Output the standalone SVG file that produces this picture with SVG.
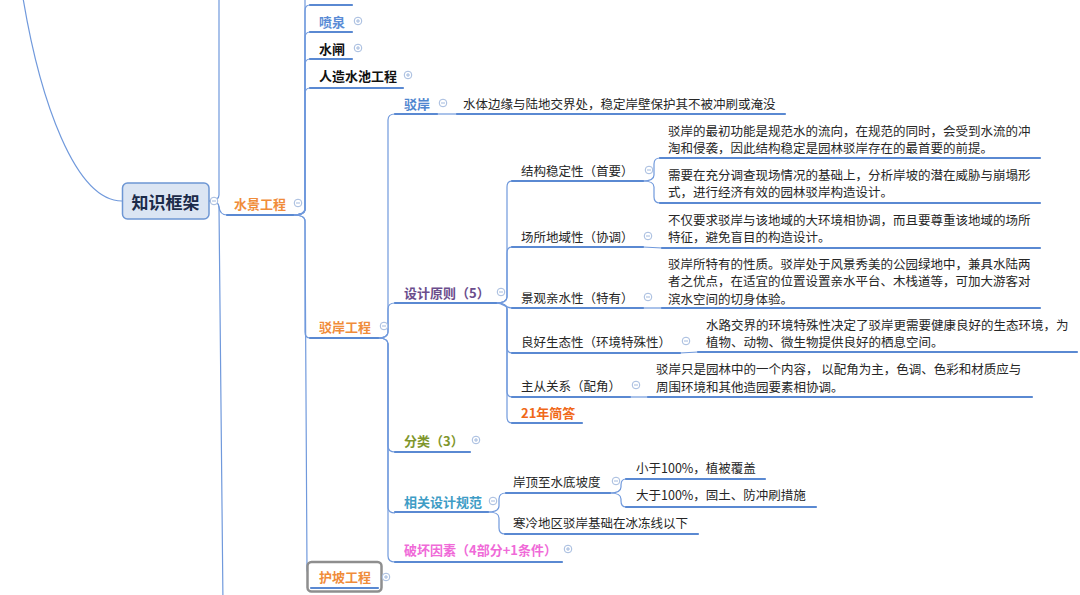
<svg xmlns="http://www.w3.org/2000/svg" xmlns:xlink="http://www.w3.org/1999/xlink" width="1080" height="595" viewBox="0 0 1080 595">
<style>
text{font-family:"Noto Sans CJK SC","Noto Sans",sans-serif;dominant-baseline:central}
.leaf{font-size:12.5px;fill:#262626}
.sub{font-size:12.5px;fill:#262626}
.b{font-size:13px;font-weight:bold}
.cn{fill:none;stroke:#7099dc;stroke-width:1.2}
.ul{fill:none;stroke:#5a89d2;stroke-width:2.2;stroke-linecap:round}
.tl{fill:none;stroke:#7099dc;stroke-width:1.2}
.tg circle{fill:#fff;stroke:#a3bade;stroke-width:1}
.tg line{stroke:#a3bade;stroke-width:1}
</style>
<defs>
<g id="mi" class="tg"><circle r="3.8"/><line x1="-2" y1="0" x2="2" y2="0"/></g>
<g id="pl" class="tg"><circle r="3.8"/><line x1="-2" y1="0" x2="2" y2="0"/><line x1="0" y1="-2" x2="0" y2="2"/></g>
</defs>
<rect width="1080" height="595" fill="#fff"/>

<g id="connectors">
<path class="cn" d="M 23 -2 C 40 100 75 201 122 201"/>
<path class="cn" d="M 209 201 Q 219 201 219 195 L 219 -10"/>
<path class="cn" d="M 209 201 Q 219 201 219 207 Q 220 215 227 215"/>
<path class="cn" d="M 209 201 Q 219 201 219 207 L 223 605"/>

<path class="cn" d="M 293 215 Q 305 215 305 209 L 305 -10"/>
<path class="cn" d="M 293 215 Q 305 215 305 209 L 305 11 Q 305 5 310 5"/>
<path class="cn" d="M 293 215 Q 305 215 305 209 L 305 38 Q 305 32 310 32"/>
<path class="cn" d="M 293 215 Q 305 215 305 209 L 305 65 Q 305 59 310 59"/>
<path class="cn" d="M 293 215 Q 305 215 305 209 L 305 94 Q 305 88 310 88"/>
<path class="cn" d="M 293 215 Q 305 215 305 221 L 305 332 Q 305 338 310 338"/>
<path class="cn" d="M 293 215 Q 305 215 305 221 L 307 570 Q 308 577 312 577"/>

<path class="cn" d="M 378 338 Q 388 338 388 332 L 388 120 Q 388 114 395 114"/>
<path class="cn" d="M 378 338 Q 388 338 388 332 L 388 309 Q 388 303 395 303"/>
<path class="cn" d="M 378 338 Q 388 338 388 344 L 388 446 Q 388 452 395 452"/>
<path class="cn" d="M 378 338 Q 388 338 388 344 L 388 507 Q 388 513 395 513"/>
<path class="cn" d="M 378 338 Q 388 338 388 344 L 388 556 Q 388 562 395 562"/>

<path class="cn" d="M 437 114 L 457 114"/>

<path class="cn" d="M 496 303 Q 507 303 507 297 L 507 187 Q 507 181 512 181"/>
<path class="cn" d="M 496 303 Q 507 303 507 297 L 507 253 Q 507 247 512 247"/>
<path class="cn" d="M 496 303 C 504 303 505 308 512 308"/>
<path class="cn" d="M 496 303 Q 507 303 507 309 L 507 347 Q 507 353 512 353"/>
<path class="cn" d="M 496 303 Q 507 303 507 309 L 507 391 Q 507 397 512 397"/>
<path class="cn" d="M 496 303 Q 507 303 507 309 L 507 417 Q 507 423 512 423"/>

<path class="cn" d="M 643 181 Q 654 181 654 175 L 654 164 Q 654 158 660 158"/>
<path class="cn" d="M 643 181 Q 654 181 654 187 L 654 197 Q 654 203 660 203"/>
<path class="cn" d="M 643 247 L 662 248"/>
<path class="cn" d="M 643 308 L 662 308"/>
<path class="cn" d="M 680 353 L 698 352"/>
<path class="cn" d="M 630 397 L 648 397"/>

<path class="cn" d="M 488 512 Q 499 512 499 506 L 499 499 Q 499 493 506 493"/>
<path class="cn" d="M 488 512 Q 499 512 499 518 L 499 528 Q 499 534 505 534"/>
<path class="cn" d="M 610 493 Q 621 493 621 487 L 621 485 Q 621 479 626 479"/>
<path class="cn" d="M 610 493 Q 621 493 621 499 L 621 501 Q 621 507 626 507"/>
</g>

<g id="n-root">
<rect x="122.5" y="183" width="86.5" height="36" rx="5" fill="#dbe5f3" stroke="#6d96d4" stroke-width="1.5"/>
<text x="165.5" y="201" text-anchor="middle" font-size="17" font-weight="bold" fill="#1c2b49">知识框架</text>
<use href="#mi" x="214" y="201"/>
</g>

<g id="n-shuijing">
<line class="ul" x1="227" y1="215" x2="293" y2="215"/>
<text class="b" x="234" y="203" fill="#f08c3a">水景工程</text>
<use href="#mi" x="298" y="203"/>
</g>

<g id="n-top"><line class="ul" x1="310" y1="5" x2="352" y2="5"/></g>

<g id="n-penquan">
<line class="ul" x1="310" y1="32" x2="352" y2="32"/>
<text class="b" x="319" y="21" fill="#5a8cd6">喷泉</text>
<use href="#pl" x="358" y="21"/>
</g>

<g id="n-shuizha">
<line class="ul" x1="310" y1="59" x2="352" y2="59"/>
<text class="b" x="319" y="48" fill="#111">水闸</text>
<use href="#pl" x="358" y="48"/>
</g>

<g id="n-shuichi">
<line class="ul" x1="310" y1="88" x2="403" y2="88"/>
<text class="b" x="319" y="75" fill="#111">人造水池工程</text>
<use href="#pl" x="408" y="75"/>
</g>

<g id="n-boan-gc">
<line class="ul" x1="310" y1="338" x2="378" y2="338"/>
<text class="b" x="319" y="326" fill="#f08c3a">驳岸工程</text>
<use href="#mi" x="384" y="326"/>
</g>

<g id="n-hupo">
<rect x="307.5" y="562" width="74" height="29.5" rx="4" fill="#fff" stroke="#8e8e8e" stroke-width="2.5"/>
<line class="ul" x1="311" y1="588" x2="378" y2="588"/>
<text class="b" x="319" y="576" fill="#f08c3a">护坡工程</text>
<use href="#pl" x="386" y="577"/>
</g>

<g id="n-boan">
<line class="ul" x1="395" y1="114" x2="437" y2="114"/>
<text class="b" x="404" y="103" fill="#4f86cf">驳岸</text>
<use href="#mi" x="443" y="103"/>
</g>
<g id="l-boan">
<line class="ul" x1="457" y1="114" x2="785" y2="114"/>
<text class="leaf" x="463" y="103">水体边缘与陆地交界处，稳定岸壁保护其不被冲刷或淹没</text>
</g>

<g id="n-sheji">
<line class="ul" x1="395" y1="303" x2="496" y2="303"/>
<text class="b" x="404" y="292" fill="#6b4d8c">设计原则（5）</text>
<use href="#mi" x="501" y="292"/>
</g>

<g id="n-jiegou">
<line class="ul" x1="512" y1="181" x2="643" y2="181"/>
<text class="sub" x="521" y="170">结构稳定性（首要）</text>
<use href="#mi" x="649" y="170"/>
</g>
<g id="l-jiegou1">
<line class="ul" x1="660" y1="158" x2="1040" y2="158"/>
<text class="leaf" x="668" y="130">驳岸的最初功能是规范水的流向，在规范的同时，会受到水流的冲</text>
<text class="leaf" x="668" y="147.5">淘和侵袭，因此结构稳定是园林驳岸存在的最首要的前提。</text>
</g>
<g id="l-jiegou2">
<line class="ul" x1="660" y1="203" x2="1040" y2="203"/>
<text class="leaf" x="668" y="174">需要在充分调查现场情况的基础上，分析岸坡的潜在威胁与崩塌形</text>
<text class="leaf" x="668" y="191.5">式，进行经济有效的园林驳岸构造设计。</text>
</g>

<g id="n-changsuo">
<line class="ul" x1="512" y1="247" x2="643" y2="247"/>
<text class="sub" x="521" y="236">场所地域性（协调）</text>
<use href="#mi" x="648" y="236"/>
</g>
<g id="l-changsuo">
<line class="ul" x1="662" y1="248" x2="1040" y2="248"/>
<text class="leaf" x="668" y="219">不仅要求驳岸与该地域的大环境相协调，而且要尊重该地域的场所</text>
<text class="leaf" x="668" y="236.5">特征，避免盲目的构造设计。</text>
</g>

<g id="n-jingguan">
<line class="ul" x1="512" y1="308" x2="643" y2="308"/>
<text class="sub" x="521" y="297">景观亲水性（特有）</text>
<use href="#mi" x="648" y="297"/>
</g>
<g id="l-jingguan">
<line class="ul" x1="662" y1="308" x2="1040" y2="308"/>
<text class="leaf" x="668" y="263">驳岸所特有的性质。驳岸处于风景秀美的公园绿地中，兼具水陆两</text>
<text class="leaf" x="668" y="280.5">者之优点，在适宜的位置设置亲水平台、木栈道等，可加大游客对</text>
<text class="leaf" x="668" y="298">滨水空间的切身体验。</text>
</g>

<g id="n-lianghao">
<line class="ul" x1="512" y1="353" x2="680" y2="353"/>
<text class="sub" x="521" y="341">良好生态性（环境特殊性）</text>
<use href="#mi" x="686" y="341"/>
</g>
<g id="l-lianghao">
<line class="ul" x1="698" y1="352" x2="1077" y2="352"/>
<text class="leaf" x="706" y="324">水路交界的环境特殊性决定了驳岸更需要健康良好的生态环境，为</text>
<text class="leaf" x="706" y="341.5">植物、动物、微生物提供良好的栖息空间。</text>
</g>

<g id="n-zhucong">
<line class="ul" x1="512" y1="397" x2="630" y2="397"/>
<text class="sub" x="521" y="385">主从关系（配角）</text>
<use href="#mi" x="636" y="385"/>
</g>
<g id="l-zhucong">
<line class="ul" x1="648" y1="397" x2="1032" y2="397"/>
<text class="leaf" x="656" y="368.5">驳岸只是园林中的一个内容， 以配角为主，色调、色彩和材质应与</text>
<text class="leaf" x="656" y="386">周围环境和其他造园要素相协调。</text>
</g>

<g id="n-21">
<line class="ul" x1="512" y1="423" x2="582" y2="423"/>
<text class="b" x="521" y="412" fill="#f06818">21年简答</text>
</g>

<g id="n-fenlei">
<line class="ul" x1="395" y1="452" x2="470" y2="452"/>
<text class="b" x="404" y="440" fill="#7f962c">分类（3）</text>
<use href="#pl" x="476" y="440"/>
</g>

<g id="n-xiangguan">
<line class="ul" x1="395" y1="512" x2="488" y2="512"/>
<text class="b" x="404" y="501" fill="#3f9dc6">相关设计规范</text>
<use href="#mi" x="493" y="501"/>
</g>
<g id="n-anding">
<line class="ul" x1="506" y1="493" x2="610" y2="493"/>
<text class="sub" x="513" y="481">岸顶至水底坡度</text>
<use href="#mi" x="616" y="481"/>
</g>
<g id="l-xiaoyu">
<line class="ul" x1="626" y1="479" x2="765" y2="479"/>
<text class="leaf" x="636" y="467">小于100%，植被覆盖</text>
</g>
<g id="l-dayu">
<line class="ul" x1="626" y1="507" x2="816" y2="507"/>
<text class="leaf" x="636" y="494">大于100%，固土、防冲刷措施</text>
</g>
<g id="l-hanleng">
<line class="ul" x1="505" y1="534" x2="698" y2="534"/>
<text class="leaf" x="513" y="522">寒冷地区驳岸基础在冰冻线以下</text>
</g>

<g id="n-pohuai">
<line class="ul" x1="395" y1="562" x2="562" y2="562"/>
<text class="b" x="404" y="549" fill="#f06ad8">破坏因素（4部分+1条件）</text>
<use href="#pl" x="568" y="549"/>
</g>
</svg>
